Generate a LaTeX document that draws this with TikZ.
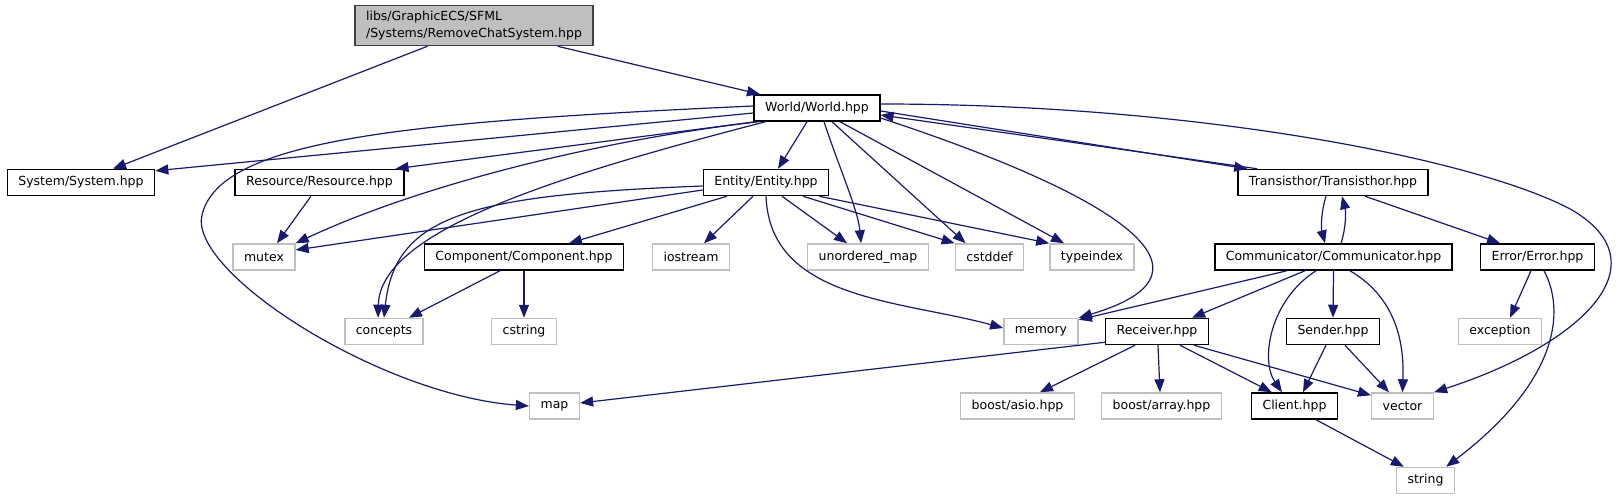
\documentclass[tikz,border=0pt]{standalone}
\usepackage{fontspec}
\setmainfont{DejaVu Sans}
\usetikzlibrary{arrows.meta}
\definecolor{edgeblue}{HTML}{191970}
\definecolor{boxgray}{HTML}{BFBFBF}
\definecolor{rootline}{HTML}{404040}
\tikzset{
  docbox/.style={draw=black, line width=1.5pt, fill=white, minimum height=26pt,
    inner xsep=11pt, inner ysep=0pt, font=\fontsize{12.5}{17}\selectfont},
  extbox/.style={docbox, draw=boxgray},
  rootbox/.style={docbox, draw=rootline, fill=boxgray, align=left, minimum height=40pt},
  incl/.style={draw=edgeblue, line width=1.2pt, -{Triangle[length=13pt,width=10pt]}},
}
\begin{document}
\begin{tikzpicture}[x=1pt,y=-1pt]
\path[use as bounding box, fill=white] (0,0) rectangle (1622,500);

% Row 0: the header itself
\node[rootbox] (Root) at (474,25.5) {libs/GraphicECS/SFML\\/Systems/RemoveChatSystem.hpp};

% Row 1
\node[docbox] (World) at (817,108) {World/World.hpp};

% Row 2
\node[docbox] (System) at (81,182.5) {System/System.hpp};
\node[docbox] (Resource) at (319.5,182.5) {Resource/Resource.hpp};
\node[docbox] (Entity) at (766,182.5) {Entity/Entity.hpp};
\node[docbox] (Transisthor) at (1333,182.5) {Transisthor/Transisthor.hpp};

% Row 3
\node[extbox] (mutex) at (264,257) {mutex};
\node[docbox] (Component) at (524,257) {Component/Component.hpp};
\node[extbox] (iostream) at (691,257) {iostream};
\node[extbox] (umap) at (868,257) {unordered\_map};
\node[extbox] (cstddef) at (989.5,257) {cstddef};
\node[extbox] (typeindex) at (1092,257) {typeindex};
\node[docbox] (Communicator) at (1333.5,257) {Communicator/Communicator.hpp};
\node[docbox] (Error) at (1537.5,257) {Error/Error.hpp};

% Row 4
\node[extbox] (concepts) at (384,331.5) {concepts};
\node[extbox] (cstring) at (524,331.5) {cstring};
\node[extbox] (memory) at (1041,331.5) {memory};
\node[docbox] (Receiver) at (1157,331.5) {Receiver.hpp};
\node[docbox] (Sender) at (1333,331.5) {Sender.hpp};
\node[extbox] (exception) at (1500,331.5) {exception};

% Row 5
\node[extbox] (map) at (554.5,406) {map};
\node[extbox] (asio) at (1017.5,406) {boost/asio.hpp};
\node[extbox] (array) at (1161.5,406) {boost/array.hpp};
\node[docbox] (Client) at (1294.5,406) {Client.hpp};
\node[extbox] (vector) at (1402.5,406) {vector};

% Row 6
\node[extbox] (string) at (1425.5,480.5) {string};

% Root includes
\draw[incl] ([xshift=-46.5pt]Root.south) -- ([xshift=32pt]System.north);
\draw[incl] ([xshift=83.5pt]Root.south) -- ([xshift=-57pt]World.north);

% World includes
\draw[incl] ([yshift=-5pt]World.west) -- ([yshift=-2pt]System.north east);
\draw[incl] ([xshift=2pt]World.south west) -- ([xshift=-9pt]Resource.north east);
\draw[incl] ([xshift=5pt]World.south west) .. controls (600,140) and (420,185) .. (mutex.north east);
\draw[incl] ([xshift=12pt]World.south west) .. controls (560,175) and (380,230) .. ([xshift=-6pt]concepts.north);
\draw[incl] ([yshift=2pt]World.west) .. controls (400,122) and (220,140) .. (202,215)
  .. controls (188,272) and (380,395) .. (map.west);
\draw[incl] ([xshift=-10pt]World.south) -- ([xshift=12pt]Entity.north);
\draw[incl] ([xshift=7pt]World.south) .. controls (840,170) and (858,210) .. ([xshift=-7pt]umap.north);
\draw[incl] ([xshift=15pt]World.south) -- ([xshift=11pt]cstddef.north west);
\draw[incl] ([xshift=23pt]World.south) -- ([xshift=-28pt]typeindex.north);
\draw[incl] ([yshift=-10pt]World.east) .. controls (1100,190) and (1240,270) .. (memory.north east);
\draw[incl] ([yshift=-3pt]World.east) -- ([xshift=10pt]Transisthor.north west);
\draw[incl] ([yshift=4pt]World.east) .. controls (1200,104) and (1480,160) .. (1572,210)
  .. controls (1665,265) and (1580,345) .. (vector.north east);

% Resource includes
\draw[incl] ([xshift=-8.5pt]Resource.south) -- ([xshift=13pt]mutex.north);

% Entity includes
\draw[incl] ([yshift=-7.5pt]Entity.west) -- ([yshift=7pt]mutex.east);
\draw[incl] ([yshift=-3.5pt]Entity.west) .. controls (470,195) and (395,215) .. (concepts.north);
\draw[incl] ([xshift=-39pt]Entity.south) -- ([xshift=45pt]Component.north);
\draw[incl] ([xshift=-13pt]Entity.south) -- ([xshift=13pt]iostream.north);
\draw[incl] (Entity.south) .. controls (770,300) and (900,300) .. ([yshift=3.5pt]memory.west);
\draw[incl] ([xshift=16pt]Entity.south) -- ([xshift=-21pt]umap.north);
\draw[incl] ([xshift=37pt]Entity.south) -- (cstddef.north west);
\draw[incl] ([xshift=-10pt]Entity.south east) -- (typeindex.north west);

% Component includes
\draw[incl] ([xshift=-24pt]Component.south) -- ([xshift=-15pt]concepts.north east);
\draw[incl] (Component.south) -- (cstring.north);

% Transisthor includes
\draw[incl] ([xshift=20pt]Transisthor.north west) -- ([yshift=-7pt]World.east);
\draw[incl] ([xshift=-7pt]Transisthor.south) .. controls (1321,212) and (1321,228) .. ([xshift=-8.5pt]Communicator.north);
\draw[incl] ([xshift=32pt]Transisthor.south) -- ([xshift=-37.5pt]Error.north);

% Communicator includes
\draw[incl] ([xshift=7.5pt]Communicator.north) .. controls (1346,228) and (1346,212) .. ([xshift=9pt]Transisthor.south);
\draw[incl] ([xshift=-46.5pt]Communicator.south) -- ([yshift=-2pt]memory.north east);
\draw[incl] ([xshift=-28.5pt]Communicator.south) -- ([xshift=35pt]Receiver.north);
\draw[incl] ([xshift=-17.5pt]Communicator.south) .. controls (1270,300) and (1260,360) .. ([xshift=-12.5pt]Client.north);
\draw[incl] (Communicator.south) -- (Sender.north);
\draw[incl] ([xshift=16.5pt]Communicator.south) .. controls (1400,300) and (1404,350) .. (vector.north);

% Error includes
\draw[incl] ([xshift=-6.5pt]Error.south) -- ([xshift=10pt]exception.north);
\draw[incl] ([xshift=6.5pt]Error.south) .. controls (1565,310) and (1560,380) .. ([xshift=-9pt]string.north east);

% Receiver includes
\draw[incl] ([yshift=3pt]Receiver.south west) -- ([yshift=3pt]map.east);
\draw[incl] ([xshift=-22pt]Receiver.south) -- ([xshift=22.5pt]asio.north);
\draw[incl] ([xshift=1pt]Receiver.south) -- ([xshift=-1.5pt]array.north);
\draw[incl] ([xshift=23pt]Receiver.south) -- ([xshift=21pt]Client.north west);
\draw[incl] ([xshift=-15pt]Receiver.south east) -- ([yshift=-3pt]vector.north west);

% Sender includes
\draw[incl] ([xshift=-7pt]Sender.south) -- ([xshift=8.5pt]Client.north);
\draw[incl] ([xshift=12pt]Sender.south) -- ([xshift=-13.5pt]vector.north);

% Client includes
\draw[incl] ([xshift=21.5pt]Client.south) -- ([xshift=8pt]string.north west);

\end{tikzpicture}
\end{document}
